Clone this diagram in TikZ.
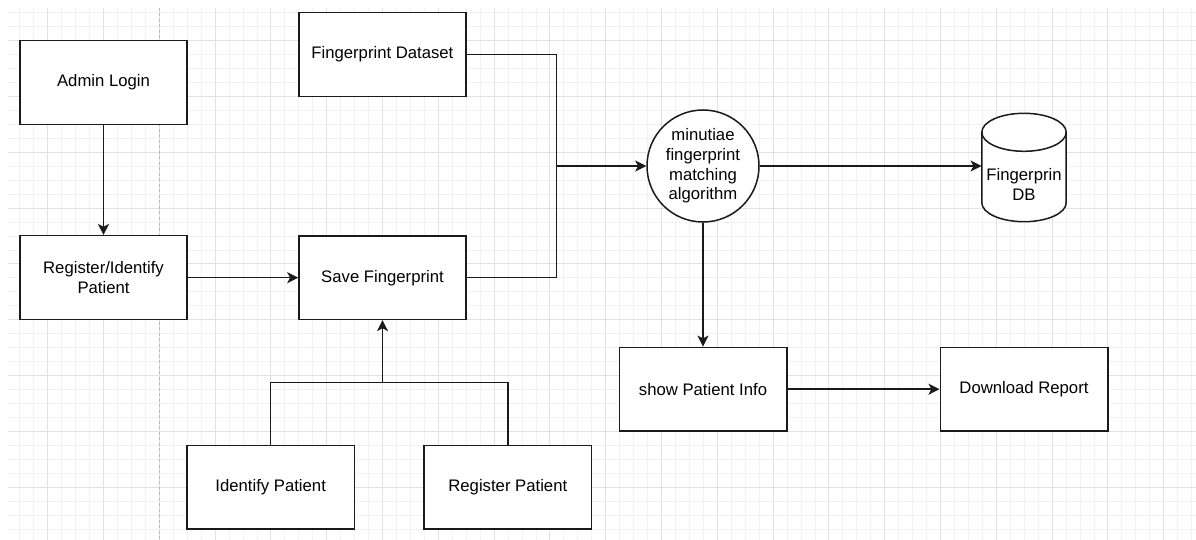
\documentclass[tikz,border=0pt]{standalone}
\usepackage{fontspec}
\setmainfont{Liberation Sans}
\usetikzlibrary{arrows.meta}
\newcommand\dlbl{\fontsize{16.7}{19.6}\selectfont}
\definecolor{gridmaj}{HTML}{E2E2E2}
\definecolor{gridmin}{HTML}{F2F2F2}
\definecolor{edge}{HTML}{1A1A1A}
\begin{document}
\begin{tikzpicture}[x=1pt,y=-1pt,
  box/.style={draw=edge, fill=white, line width=1.5pt, minimum width=167pt, minimum height=84pt, inner sep=0pt, align=center, font=\dlbl, text=black},
  conn/.style={draw=edge, line width=1.5pt},
  arr/.style={conn, -{Stealth[length=11pt,width=11pt,inset=2.8pt]}},
  minorl/.style={draw=gridmin, line width=0.9pt},
  majorl/.style={draw=gridmaj, line width=1.1pt}
]
\useasboundingbox (0,0) rectangle (1196,540);
\fill[white] (0,0) rectangle (1196,540);
% grid
\begin{scope}
\clip (8,8) rectangle (1196,540);
\foreach \i in {-11,...,74} \draw[minorl] ({159.3+13.95*\i},8) -- ({159.3+13.95*\i},540);
\foreach \j in {-3,...,36} \draw[minorl] (8,{40.7+13.95*\j}) -- (1196,{40.7+13.95*\j});
\foreach \i in {-3,...,19} \draw[majorl] ({159.3+55.8*\i},8) -- ({159.3+55.8*\i},540);
\foreach \j in {-1,...,9} \draw[majorl] (8,{40.7+55.8*\j}) -- (1196,{40.7+55.8*\j});
\draw[draw=gray!55, line width=1pt, dash pattern=on 3pt off 2.5pt] (159.3,8) -- (159.3,540);
\end{scope}
% nodes
\node[box] (admin) at (103.5,82.3) {Admin Login};
\node[box] (reg) at (103.5,277.7) {Register/Identify\\Patient};
\node[box, minimum height=83.6pt] (fpd) at (382.4,54.5) {Fingerprint Dataset};
\node[box, minimum height=83.3pt] (save) at (382.5,277.7) {Save Fingerprint};
\node[box, circle, minimum size=112pt] (alg) at (703,166) {minutiae\\fingerprint\\matching\\algorithm};
\node[box, minimum width=167.5pt, minimum height=83.7pt] (show) at (703,389.2) {show Patient Info};
\node[box, minimum width=167.5pt, minimum height=83.7pt] (dl) at (1024,389.2) {Download Report};
\node[box, minimum width=167.3pt, minimum height=83.7pt] (idp) at (270.7,487.2) {Identify Patient};
\node[box, minimum width=167.7pt, minimum height=83.7pt] (rgp) at (507.8,487.2) {Register Patient};
% database cylinder
\node[draw=none, minimum width=84.4pt, minimum height=108.4pt, inner sep=0pt] (db) at (1024,167.5) {};
\filldraw[fill=white, draw=edge, line width=1.5pt]
  (981.8,132.3) -- (981.8,202.7) arc[start angle=180, end angle=360, x radius=42.2pt, y radius=19pt]
  -- (1066.2,132.3) arc[start angle=0, end angle=180, x radius=42.2pt, y radius=19pt] -- cycle;
\draw[draw=edge, line width=1.5pt] (981.8,132.3) arc[start angle=180, end angle=360, x radius=42.2pt, y radius=19pt];
\node[font=\dlbl, align=center, inner sep=0pt] (dbt) at (1024,184.5) {Fingerprin\\DB};
% connectors
\coordinate (j1) at (556.7,166);
\coordinate (bus) at (382.5,382.3);
\draw[arr] (admin.south) -- (reg.north);
\draw[arr] (reg.east) -- (save.west);
\draw[conn] (fpd.east) -| (j1);
\draw[conn] (save.east) -| (j1);
\draw[arr] (j1) -- (alg.west);
\draw[arr] (alg.east) -- (alg.east -| db.west);
\draw[arr] (alg.south) -- (show.north);
\draw[arr] (show.east) -- (dl.west);
\draw[conn] (idp.north) |- (bus);
\draw[conn] (rgp.north) |- (bus);
\draw[arr] (bus) -- (save.south);
\end{tikzpicture}
\end{document}
